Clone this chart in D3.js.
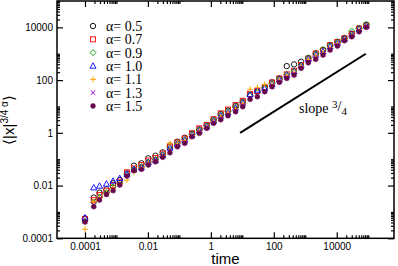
<!DOCTYPE html>
<html>
<head>
<script src="https://d3js.org/d3.v7.min.js"></script>
<style>
  body { margin: 0; background: #fff; }
  svg text { font-family: "Liberation Sans", Arial, sans-serif; }
</style>
</head>
<body>
<svg width="398" height="266"></svg>
<script>
const times = [1e-4, 1.9e-4, 2.9e-4, 4.8e-4, 7.8e-4, 1.27e-3, 2.16e-3, 3.6e-3, 6.2e-3, 1.03e-2,
  1.74e-2, 2.95e-2, 5.0e-2, 8.6e-2, 0.148, 0.252, 0.43, 0.74, 1.22, 2.06,
  3.5, 6.1, 10.3, 17.6, 30, 51.5, 88, 150, 258, 440,
  735, 1250, 2150, 3670, 6140, 10500, 17500, 30000, 51000, 87000];

const alphas = ["0.5", "0.7", "0.9", "1.0", "1.1", "1.3", "1.5"];

// <|x|^(3/4 alpha)> for each alpha
const y05 = [5.7e-4, 3.5e-3, 5.4e-3, 7.2e-3, 1.22e-2, 1.62e-2, 2.9e-2, 5.7e-2, 7.0e-2, 0.108,
  0.136, 0.182, 0.33, 0.46, 0.65, 0.94, 1.36, 1.98, 3.25, 5.16,
  7.0, 10.4, 15.4, 27.1, 36.8, 53.1, 82, 116, 341, 395,
  497, 685, 1030, 1380, 2130, 2840, 3930, 5820, 9160, 12200];
const y07 = [5.3e-4, 2.8e-3, 4.4e-3, 6.4e-3, 1.05e-2, 1.40e-2, 3.2e-2, 4.5e-2, 6.0e-2, 8.9e-2,
  0.111, 0.164, 0.297, 0.429, 0.608, 0.957, 1.48, 1.98, 3.25, 5.48,
  7.64, 11.3, 16.5, 29.6, 38.5, 54.6, 80.7, 115, 165, 226,
  372, 656, 1016, 1318, 2080, 2773, 3828, 5572, 9016, 11910];
const y09 = [4.6e-4, 2.24e-3, 3.6e-3, 5.4e-3, 8.8e-3, 1.25e-2, 2.62e-2, 4.24e-2, 5.27e-2, 7.8e-2,
  9.7e-2, 0.150, 0.277, 0.393, 0.557, 0.877, 1.28, 1.84, 3.05, 4.73,
  6.43, 9.51, 14.1, 25.9, 33.7, 50.0, 75.3, 110, 162, 220,
  370, 703, 973, 1466, 2042, 2750, 3758, 7244, 9000, 13340];
const y10 = [6.0e-4, 8.3e-3, 9.6e-3, 1.15e-2, 1.49e-2, 1.88e-2, 2.67e-2, 4.06e-2, 4.92e-2, 7.5e-2,
  9.3e-2, 0.144, 0.265, 0.376, 0.533, 0.826, 1.19, 1.73, 2.80, 4.34,
  5.89, 8.71, 13.5, 28.3, 42.0, 47.9, 70.8, 105, 155, 211,
  356, 628, 891, 1208, 1871, 2541, 3597, 5333, 8630, 11700];
const y11 = [2.2e-4, 2.44e-3, 3.3e-3, 5.0e-3, 7.7e-3, 1.15e-2, 1.62e-2, 3.27e-2, 4.83e-2, 7.2e-2,
  8.9e-2, 0.138, 0.400, 0.38, 0.511, 0.791, 1.12, 1.66, 2.68, 3.97,
  5.64, 7.98, 12.4, 44.6, 51.3, 69.0, 70, 100, 149, 202,
  341, 601, 817, 1109, 1714, 2432, 3443, 5105, 8260, 11200];
const y13 = [4.5e-4, 1.83e-3, 3.2e-3, 4.8e-3, 7.1e-3, 1.10e-2, 2.40e-2, 3.89e-2, 4.43e-2, 6.6e-2,
  8.5e-2, 0.126, 0.195, 0.316, 0.429, 0.736, 1.03, 1.55, 2.46, 3.48,
  4.94, 7.00, 10.8, 20.8, 25.9, 38.5, 59.4, 88.1, 125, 169,
  299, 505, 685, 973, 1503, 2133, 3296, 4677, 7244, 10260];
const y15 = [4.15e-4, 1.58e-3, 2.83e-3, 4.58e-3, 6.4e-3, 1.05e-2, 2.30e-2, 3.66e-2, 4.13e-2, 6.0e-2,
  8.0e-2, 0.118, 0.176, 0.297, 0.400, 0.711, 0.957, 1.48, 2.29, 3.14,
  4.45, 6.31, 9.77, 18.6, 23.4, 36.1, 56.0, 82.2, 116, 155,
  279, 455, 612, 891, 1377, 1954, 3105, 4406, 6808, 10000];

// reference slope-3/4 line end points
const slopeT = [8.5, 84000];
const slopeY = [1, 1000];

const majorTicks = [1e-4, 1e-2, 1, 1e2, 1e4];
const tickLabels = ["0.0001", "0.01", "1", "100", "10000"];

const seriesVals = [y05, y07, y09, y10, y11, y13, y15];
const colors = ["#000000", "#ff0000", "#00a000", "#0000ff", "#ffa500", "#9400d3", "#67074a"];
const shapes = ["circle", "square", "diamond", "triangle", "plus", "x", "dot"];

const svg = d3.select("svg");
const mLeft = 57, mRight = 394, mTop = 1, mBottom = 238.3;

const x = d3.scaleLog().domain([1.29e-5, 6.6e5]).range([mLeft, mRight]);
const y = d3.scaleLog().domain([1e-4, 1e5]).range([mBottom, mTop]);

// minor ticks: 2..10 times each major
const minorTicks = [];
majorTicks.forEach(m => { for (let k = 2; k <= 10; k++) minorTicks.push(m * k); });

function fmt(v) {
  const i = majorTicks.findIndex(m => Math.abs(Math.log10(m) - Math.log10(v)) < 1e-6);
  return i >= 0 ? tickLabels[i] : "";
}

function styleAxis(g) {
  g.select(".domain").remove();
  g.selectAll("line").attr("stroke", "#000").attr("stroke-width", 1.2);
  g.selectAll("text").attr("fill", "#000").style("font-size", "10px")
    .style("font-family", "'Liberation Sans', Arial, sans-serif");
}

// bottom
svg.append("g").attr("transform", `translate(0,${mBottom})`)
  .call(d3.axisBottom(x).tickValues(majorTicks).tickSize(-6).tickPadding(4.5).tickFormat(fmt)).call(styleAxis);
svg.append("g").attr("transform", `translate(0,${mBottom})`)
  .call(d3.axisBottom(x).tickValues(minorTicks).tickSize(-3).tickFormat("")).call(styleAxis);
// top
svg.append("g").attr("transform", `translate(0,${mTop})`)
  .call(d3.axisTop(x).tickValues(majorTicks).tickSize(-6).tickFormat("")).call(styleAxis);
svg.append("g").attr("transform", `translate(0,${mTop})`)
  .call(d3.axisTop(x).tickValues(minorTicks).tickSize(-3).tickFormat("")).call(styleAxis);
// left
svg.append("g").attr("transform", `translate(${mLeft},0)`)
  .call(d3.axisLeft(y).tickValues(majorTicks).tickSize(-6).tickPadding(4).tickFormat(fmt)).call(styleAxis);
svg.append("g").attr("transform", `translate(${mLeft},0)`)
  .call(d3.axisLeft(y).tickValues(minorTicks.filter(v => v <= 1e5)).tickSize(-3).tickFormat("")).call(styleAxis);
// right
svg.append("g").attr("transform", `translate(${mRight},0)`)
  .call(d3.axisRight(y).tickValues(majorTicks).tickSize(-6).tickFormat("")).call(styleAxis);
svg.append("g").attr("transform", `translate(${mRight},0)`)
  .call(d3.axisRight(y).tickValues(minorTicks.filter(v => v <= 1e5)).tickSize(-3).tickFormat("")).call(styleAxis);

// frame
svg.append("rect")
  .attr("x", mLeft).attr("y", mTop).attr("width", mRight - mLeft).attr("height", mBottom - mTop)
  .attr("fill", "none").attr("stroke", "#000").attr("stroke-width", 1.5);

// marker drawing
function drawMarker(g, shape, color) {
  if (shape === "circle") {
    g.append("circle").attr("r", 2.7).attr("fill", "none").attr("stroke", color).attr("stroke-width", 0.9);
  } else if (shape === "square") {
    g.append("rect").attr("x", -2.5).attr("y", -2.5).attr("width", 5).attr("height", 5)
      .attr("fill", "none").attr("stroke", color).attr("stroke-width", 0.9);
  } else if (shape === "diamond") {
    g.append("path").attr("d", "M0,-3L3,0L0,3L-3,0Z").attr("fill", "none").attr("stroke", color).attr("stroke-width", 0.9);
  } else if (shape === "triangle") {
    g.append("path").attr("d", "M0,-3.2L3,2.2L-3,2.2Z").attr("fill", "none").attr("stroke", color).attr("stroke-width", 0.9);
  } else if (shape === "plus") {
    g.append("path").attr("d", "M-3,0H3M0,-3V3").attr("stroke", color).attr("stroke-width", 1);
  } else if (shape === "x") {
    g.append("path").attr("d", "M-2.3,-2.3L2.3,2.3M-2.3,2.3L2.3,-2.3").attr("stroke", color).attr("stroke-width", 1);
  } else {
    g.append("circle").attr("r", 2.4).attr("fill", color).attr("stroke", color).attr("stroke-width", 0.6);
  }
}

seriesVals.forEach((vals, si) => {
  const g = svg.append("g");
  g.selectAll("g.pt")
    .data(vals.map((v, i) => ({ t: times[i], v: v })))
    .enter().append("g")
    .attr("class", "pt")
    .attr("transform", d => `translate(${x(d.t)},${y(d.v)})`)
    .each(function() { drawMarker(d3.select(this), shapes[si], colors[si]); });
});

// slope line
svg.append("line")
  .attr("x1", x(slopeT[0])).attr("y1", y(slopeY[0]))
  .attr("x2", x(slopeT[1])).attr("y2", y(slopeY[1]))
  .attr("stroke", "#000").attr("stroke-width", 2);

const st = svg.append("text")
  .attr("x", x(630)).attr("y", y(5.6))
  .style("font-family", "'Liberation Serif', 'Times New Roman', serif")
  .style("font-size", "14px");
st.append("tspan").text("slope ");
st.append("tspan").attr("dy", -5).style("font-size", "11px").text("3");
st.append("tspan").attr("dy", 3).style("font-size", "14px").text("/");
st.append("tspan").attr("dy", 4).style("font-size", "11px").text("4");

// legend
alphas.forEach((a, i) => {
  const ly = 26 + i * 13.33;
  const g = svg.append("g").attr("transform", `translate(93,${ly})`);
  drawMarker(g, shapes[i], colors[i]);
  svg.append("text")
    .attr("x", 106).attr("y", ly + 5)
    .style("font-family", "'Liberation Serif', 'Times New Roman', serif")
    .style("font-size", "14px")
    .text("\u03b1= " + a);
});

// axis labels
svg.append("text")
  .attr("x", (mLeft + mRight) / 2).attr("y", 264)
  .attr("text-anchor", "middle")
  .style("font-size", "15px")
  .text("time");

const yl = svg.append("text")
  .attr("transform", "translate(14,120) rotate(-90)")
  .attr("text-anchor", "middle")
  .style("font-size", "15px");
yl.append("tspan").text("\u27e8|x|");
yl.append("tspan").attr("dy", -6).style("font-size", "10px").text("3/4 \u03b1");
yl.append("tspan").attr("dy", 6).style("font-size", "15px").text("\u27e9");
</script>
</body>
</html>
